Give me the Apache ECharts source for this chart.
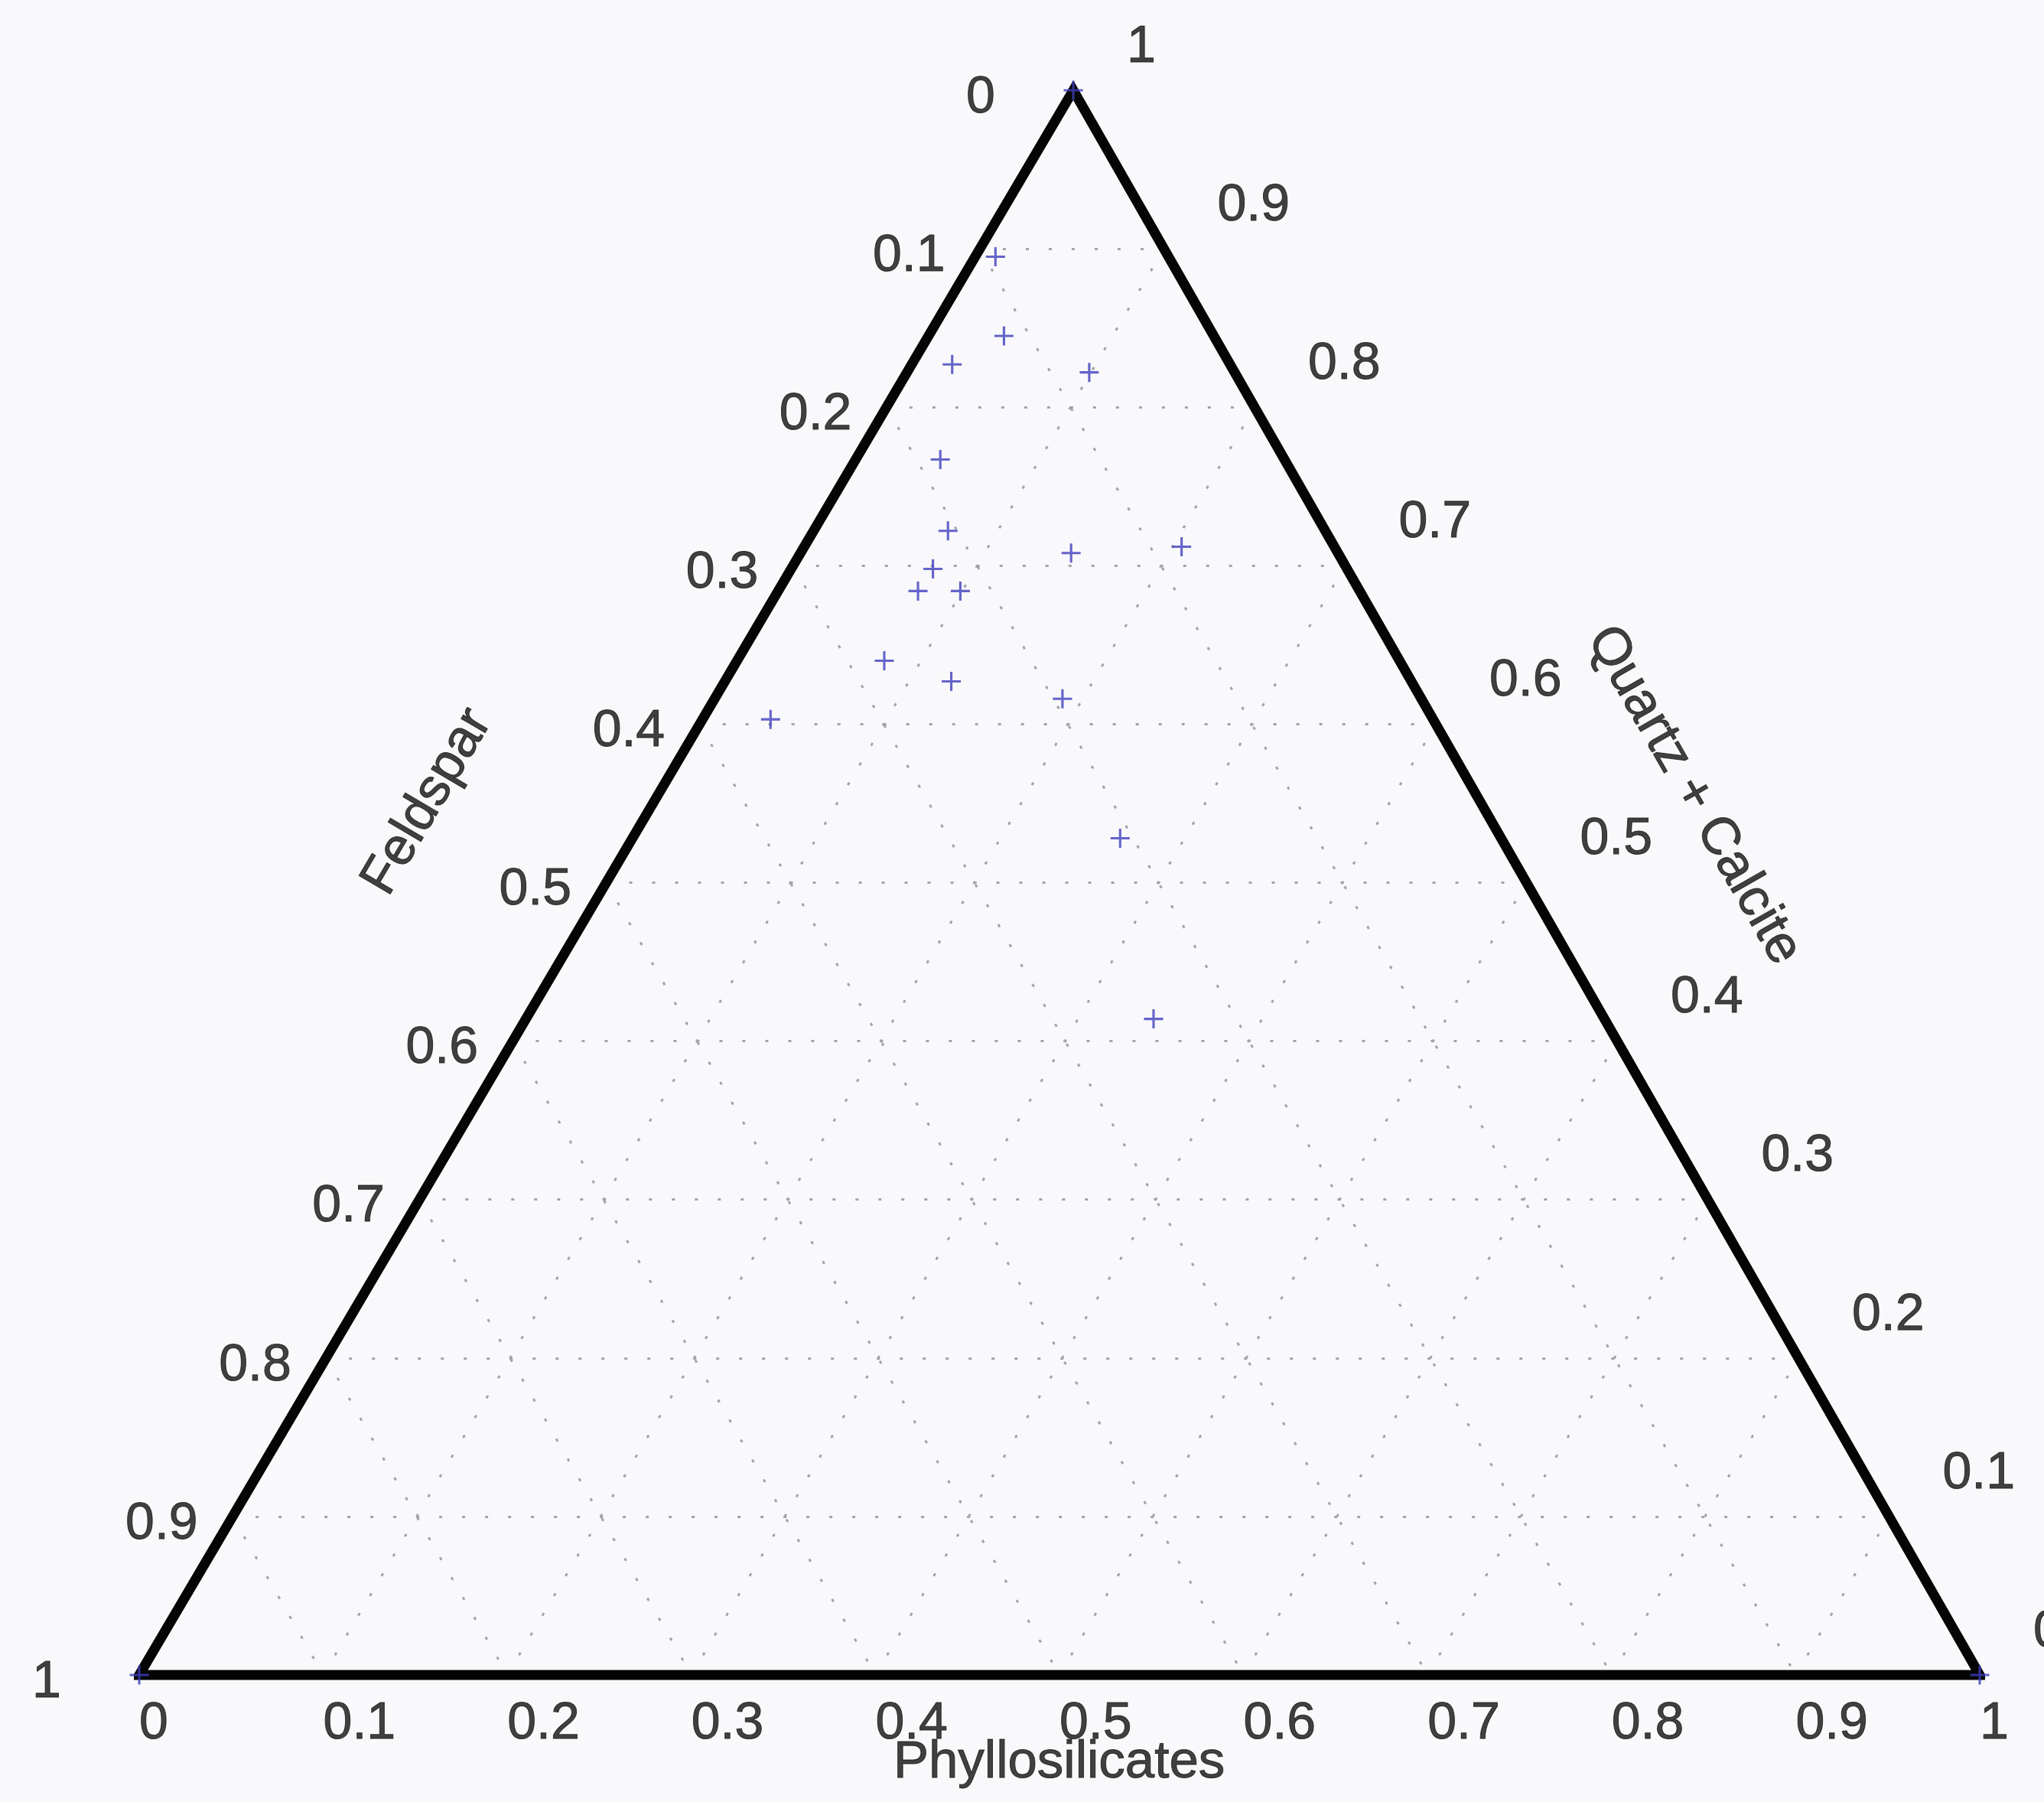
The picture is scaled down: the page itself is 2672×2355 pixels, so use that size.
<!DOCTYPE html>
<html>
<head>
<meta charset="utf-8">
<title>Ternary diagram</title>
<script src="https://cdn.jsdelivr.net/npm/echarts@6/dist/echarts.min.js"></script>
<style>
  html, body { margin: 0; padding: 0; background: #f9f9fb; }
  #chart { width: 2672px; height: 2355px; }
</style>
</head>
<body>
<div id="chart"></div>
<script>
// compositions (fractions); last three are the vertices
const phyllosilicates = [0.0, 0.011, 0.041, 0.022, 0.099, 0.046, 0.073, 0.147, 0.205, 0.077, 0.076, 0.099, 0.080, 0.123, 0.189, 0.037, 0.265, 0.341, 0.0, 1.0];
const quartzCalcite   = [1.0, 0.895, 0.845, 0.827, 0.822, 0.767, 0.722, 0.708, 0.712, 0.698, 0.684, 0.684, 0.640, 0.627, 0.616, 0.603, 0.528, 0.414, 0.0, 0.0];
const feldspar        = [0.0, 0.094, 0.114, 0.151, 0.079, 0.187, 0.205, 0.145, 0.083, 0.225, 0.240, 0.217, 0.280, 0.250, 0.195, 0.360, 0.207, 0.245, 1.0, 0.0];

const tickValues = [0, 0.1, 0.2, 0.3, 0.4, 0.5, 0.6, 0.7, 0.8, 0.9, 1];
const tickLabels = ["0", "0.1", "0.2", "0.3", "0.4", "0.5", "0.6", "0.7", "0.8", "0.9", "1"];
const gridValues = [0.1, 0.2, 0.3, 0.4, 0.5, 0.6, 0.7, 0.8, 0.9];

const bottomName = "Phyllosilicates";
const leftName = "Feldspar";
const rightName = "Quartz + Calcite";

// the scanned triangle's apex sits a touch right of the base midpoint
const apexShift = 0.5075;
const FONT = "'Liberation Sans', Arial, Helvetica, sans-serif";

// ternary (phyllosilicates, quartz+calcite) -> cartesian
function toXY(p, q) {
  return [p + apexShift * q, q];
}

const chart = echarts.init(document.getElementById("chart"));

// dotted grid, three families
const gridLines = [];
gridValues.forEach(v => {
  gridLines.push({ coords: [toXY(0, v), toXY(1 - v, v)] });     // const quartz + calcite
  gridLines.push({ coords: [toXY(v, 0), toXY(v, 1 - v)] });     // const phyllosilicates
  gridLines.push({ coords: [toXY(0, 1 - v), toXY(1 - v, 0)] }); // const feldspar
});

const frame = [toXY(0, 0), toXY(1, 0), toXY(0, 1), toXY(0, 0), toXY(1, 0)];

const points = phyllosilicates.map((p, i) => ({
  value: toXY(p, quartzCalcite[i]),
  name: "F " + feldspar[i]
}));

// tick labels: bottom = phyllosilicates, left = feldspar, right = quartz + calcite
const bottomTicks = tickValues.map((v, i) => ({ value: toXY(v, 0), name: tickLabels[i] }));
const leftTicks = tickValues.map((v, i) => ({ value: toXY(0, 1 - v), name: tickLabels[i] }));
const rightTicks = tickValues.map((v, i) => ({ value: toXY(1 - v, v), name: tickLabels[i] }));

const textStyle = {
  color: "#111",
  textBorderColor: "#111",
  textBorderWidth: 1,
  fontSize: 68,
  fontFamily: FONT
};

function labelSeries(data, offset) {
  return {
    type: "scatter",
    data: data,
    symbolSize: 1,
    clip: false,
    silent: true,
    itemStyle: { color: "transparent" },
    label: Object.assign({
      show: true,
      formatter: "{b}",
      position: "inside",
      align: "left",
      verticalAlign: "middle",
      offset: offset
    }, textStyle),
    z: 5
  };
}

function titleSeries(pos, text, rotate) {
  return {
    type: "scatter",
    data: [{ value: pos, name: text }],
    symbolSize: 1,
    clip: false,
    silent: true,
    itemStyle: { color: "transparent" },
    label: Object.assign({
      show: true,
      formatter: "{b}",
      position: "inside",
      align: "center",
      verticalAlign: "middle",
      rotate: rotate
    }, textStyle, { fontSize: 69 }),
    z: 5
  };
}

const option = {
  backgroundColor: "#f9f9fb",
  animation: false,
  grid: { left: 182, right: 84, top: 118, bottom: 166 },
  xAxis: { type: "value", min: 0, max: 1, show: false },
  yAxis: { type: "value", min: 0, max: 1, show: false },
  series: [
    {
      type: "lines",
      coordinateSystem: "cartesian2d",
      data: gridLines,
      silent: true,
      lineStyle: { color: "#a4a4a8", width: 3, type: [4, 26], opacity: 1 },
      z: 1
    },
    {
      type: "line",
      data: frame,
      symbol: "none",
      clip: false,
      silent: true,
      lineStyle: { color: "#050505", width: 13, join: "miter", miterLimit: 10 },
      z: 3
    },
    {
      type: "scatter",
      data: points,
      clip: false,
      symbol: "path://M10.5,0h3v10.5h10.5v3h-10.5v10.5h-3v-10.5h-10.5v-3h10.5z",
      symbolSize: 25,
      itemStyle: { color: "#3f3fbe" },
      z: 4
    },
    labelSeries(bottomTicks, [0, 64]),
    labelSeries(leftTicks, [-140, 10]),
    labelSeries(rightTicks, [70, -56]),
    titleSeries(toXY(0.528, -0.0555), bottomName, 0),
    titleSeries(toXY(-0.123, 0.551), leftName, 59.5),
    titleSeries(toXY(0.563, 0.555), rightName, -60.2)
  ]
};

chart.setOption(option);
window.addEventListener("resize", () => chart.resize());
</script>
</body>
</html>
